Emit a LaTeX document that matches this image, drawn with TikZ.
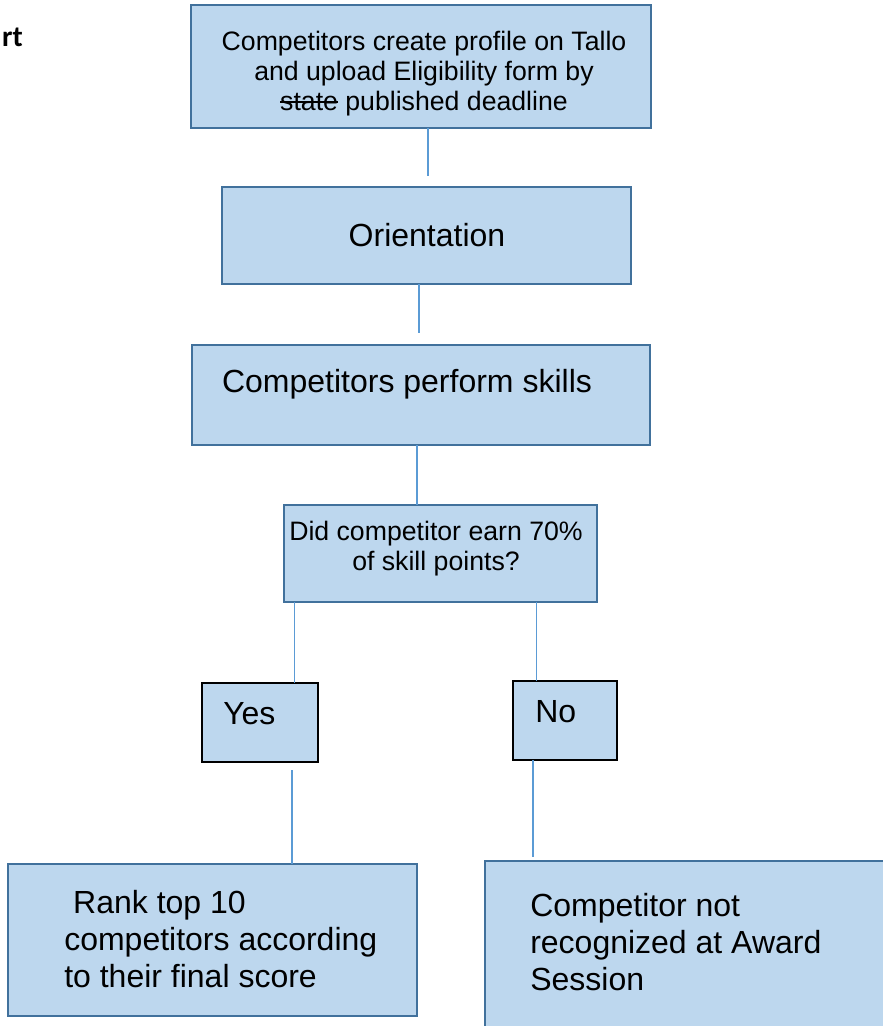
\documentclass[tikz,border=0pt]{standalone}
\usepackage{fontspec}
\setmainfont{Liberation Sans}
\newfontfamily\carlito{Carlito}
\newsavebox\mystrikebox
\newcommand\mystrike[1]{\sbox\mystrikebox{#1}\rlap{\usebox\mystrikebox}\rule[0.26em]{\wd\mystrikebox}{0.06em}}
\definecolor{boxfill}{HTML}{BDD7EE}
\definecolor{boxline}{HTML}{41719C}
\definecolor{connblue}{HTML}{5B9BD5}
\begin{document}
\begin{tikzpicture}[x=0.75pt,y=-0.75pt,
  box/.style={draw=boxline, line width=1.6pt, fill=boxfill, inner sep=0pt, outer sep=0pt, anchor=north west},
  ans/.style={draw=black, line width=1.6pt, fill=boxfill, inner sep=0pt, outer sep=0pt, anchor=north west},
  connector/.style={draw=connblue, line width=0.8pt},
  big/.style={font=\fontsize{24}{27.4}\selectfont, inner sep=0pt},
  small/.style={font=\fontsize{20}{22.5}\selectfont, inner sep=0pt},
]
\useasboundingbox (0,0) rectangle (883,1026);
\clip (0,0) rectangle (883,1026);
% boxes
\node[box, minimum width={460*0.75pt}, minimum height={123*0.75pt}] (b1) at (191,5) {};
\node[box, minimum width={409*0.75pt}, minimum height={97*0.75pt}] (b2) at (222,187) {};
\node[box, minimum width={458*0.75pt}, minimum height={100*0.75pt}] (b3) at (192,345) {};
\node[box, minimum width={313*0.75pt}, minimum height={97*0.75pt}] (b4) at (284,505) {};
\node[ans, minimum width={116*0.75pt}, minimum height={79*0.75pt}] (yes) at (202,683) {};
\node[ans, minimum width={104*0.75pt}, minimum height={79*0.75pt}] (no) at (513,681) {};
\node[box, minimum width={409*0.75pt}, minimum height={152*0.75pt}] (rank) at (8,864) {};
\node[box, minimum width={420*0.75pt}, minimum height={190*0.75pt}] (notrec) at (485,861) {};
% texts
\node[font=\carlito\bfseries\fontsize{22}{26}\selectfont, anchor=base east, inner sep=0pt] (rt) at (23,46) {rt};
\node[small, align=center, anchor=base] (t1) at (424,110) {Competitors create profile on Tallo\\and upload Eligibility form by\\\mystrike{state} published deadline};
\node[big, anchor=base] (t2) at (427,246) {Orientation};
\node[big, anchor=base] (t3) at (407,392) {Competitors perform skills};
\node[small, align=center, anchor=base] (t4) at (436,570) {Did competitor earn 70\%\\of skill points?};
\node[big, anchor=base west] (t5) at (223,724) {Yes};
\node[big, anchor=base west] (t6) at (535,722) {No};
\node[big, align=left, anchor=base west] (t7) at (64,987) {\hspace*{0.28em}Rank top 10\\competitors according\\to their final score};
\node[big, align=left, anchor=base west] (t8) at (530,990) {Competitor not\\recognized at Award\\Session};
% connector ends
\coordinate (c1) at (428,176);
\coordinate (c2) at (419,333);
\coordinate (c3) at (417,0);
\coordinate (c4) at (294.5,0);
\coordinate (c5) at (536.5,0);
\coordinate (c6) at (292,770);
\coordinate (c7) at (533,857);
% connectors
\draw[connector] (b1.south -| c1) -- (c1);
\draw[connector] (b2.south -| c2) -- (c2);
\draw[connector] (b3.south -| c3) -- (b4.north -| c3);
\draw[connector] (b4.south -| c4) -- (yes.north -| c4);
\draw[connector] (b4.south -| c5) -- (no.north -| c5);
\draw[connector] (c6) -- (rank.north -| c6);
\draw[connector] (no.south -| c7) -- (c7);
\end{tikzpicture}
\end{document}
